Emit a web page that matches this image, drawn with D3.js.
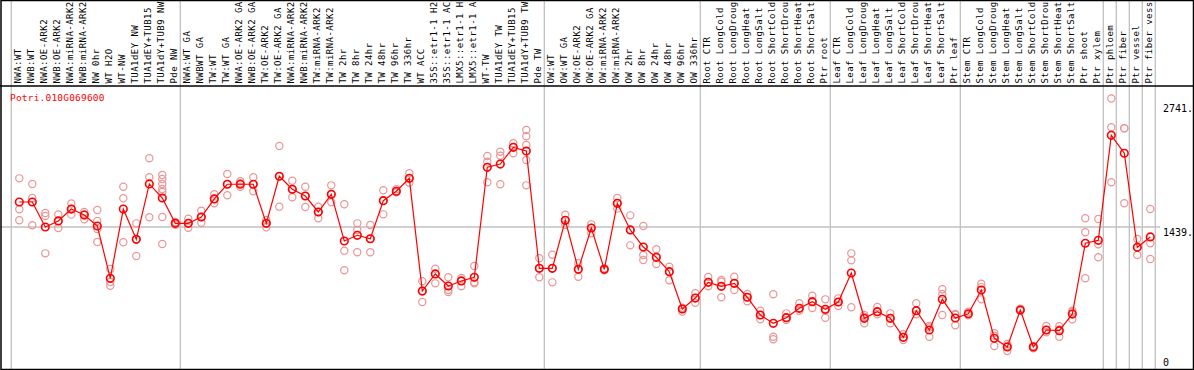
<!DOCTYPE html>
<html><head><meta charset="utf-8">
<script src="https://cdn.jsdelivr.net/npm/d3@7"></script>
<style>
html,body{margin:0;padding:0;background:#fff;}
svg{display:block;}
text{font-family:"DejaVu Sans Mono","Liberation Mono",monospace;}
</style></head>
<body>
<svg id="chart" width="1194" height="370"></svg>
<script>
const geneId = "Potri.010G069600";

const categories = [
"NWA:WT","NWB:WT","NWA:OE-ARK2","NWB:OE-ARK2","NWA:miRNA-ARK2","NWB:miRNA-ARK2","NW 0hr","WT H2O","WT-NW","TUA1dEY NW","TUA1dEY+TUB15","TUA1dY+TUB9 NW","Pde NW",
"NWA:WT GA","NWBWT GA","TW:WT","TW:WT GA","NWA:OE-ARK2 GA","NWB:OE-ARK2 GA","TW:OE-ARK2","TW:OE-ARK2 GA","NWA:miRNA-ARK2","NWB:miRNA-ARK2","TW:miRNA-ARK2","TW:miRNA-ARK2",
"TW 2hr","TW 8hr","TW 24hr","TW 48hr","TW 96hr","TW 336hr","WT ACC","35S::etr1-1 H2","35S::etr1-1 AC","LMX5::etr1-1 H","LMX5::etr1-1 A","WT-TW","TUA1dEY TW","TUA1dEY+TUB15","TUA1dY+TUB9 TW","Pde TW",
"OW:WT","OW:WT GA","OW:OE-ARK2","OW:OE-ARK2 GA","OW:miRNA-ARK2","OW:miRNA-ARK2","OW 2hr","OW 8hr","OW 24hr","OW 48hr","OW 96hr","OW 336hr",
"Root CTR","Root LongCold","Root LongDroug","Root LongHeat","Root LongSalt","Root ShortCold","Root ShortDrou","Root ShortHeat","Root ShortSalt","Ptr root",
"Leaf CTR","Leaf LongCold","Leaf LongDroug","Leaf LongHeat","Leaf LongSalt","Leaf ShortCold","Leaf ShortDrou","Leaf ShortHeat","Leaf ShortSalt","Ptr leaf",
"Stem CTR","Stem LongCold","Stem LongDroug","Stem LongHeat","Stem LongSalt","Stem ShortCold","Stem ShortDrou","Stem ShortHeat","Stem ShortSalt","Ptr shoot","Ptr xylem",
"Ptr phloem","Ptr fiber","Ptr vessel","Ptr fiber vess"
];

// index of the first category of each group
const groupStarts = [0, 13, 41, 53, 63, 73, 84, 85, 86, 87];

const meanValues = [
1692,1692,1439,1500,1621,1560,1449,919,1621,1314,1875,1733,1476,
1476,1540,1723,1872,1872,1872,1476,1953,1821,1753,1591,1770,
1297,1355,1320,1706,1801,1932,790,963,841,892,929,2044,2077,2246,2209,1020,
1020,1507,1010,1429,1010,1679,1409,1236,1132,986,608,719,
878,838,868,727,547,463,520,615,682,605,
679,973,514,581,514,321,591,395,706,517,
560,800,311,223,598,223,395,388,557,1274,1304,
2368,2186,1233,1338
];

const replicateValues = [
[1932,1618,1507],[1875,1733,1456],[1581,1550,1172],[1566,1500,1429],[1677,1621,1564],[1591,1567,1517],[1611,1500,1419,1287],[1013,882,844],[1847,1730,1284],[1476,1314,1145],[2135,1943,1537],[1966,1925,1875,1824,1794,1540,1267],[1490,1476,1462],
[1523,1476,1432],[1604,1540,1482],[1770,1723,1679],[1976,1872,1760],[1902,1882,1847],[1943,1872,1801],[1510,1476,1436],[2260,1953,1645],[1908,1821,1740],[1847,1753,1642],[1645,1591,1527],[1861,1770,1689],
[1669,1199,1000],[1476,1409,1183],[1459,1320,1183],[1811,1706,1567],[1821,1794,1790],[1983,1932,1888],[889,790,679],[1016,963,868],[929,800,780],[922,892,838],[1044,878,868],[2158,2101,1892],[2202,2161,1872],[2287,2246,2186],[2422,2358,2270,2118,1861],[1122,1020,929],
[1158,1020,878],[1564,1507,1462],[1071,1010,935],[1466,1429,1375],[1020,1010,1000],[1733,1679,1625],[1557,1409,1253],[1449,1155,1105],[1213,1132,1064],[1037,986,899],[620,608,581],[767,719,672],
[932,878,838],[902,885,727],[935,868,800],[760,727,686],[591,547,504],[757,327,301],[564,520,497],[666,615,591],[743,682,618],[706,590,520],
[716,679,638],[1172,1101,625],[547,530,463],[628,581,554],[564,514,463],[352,321,294],[666,591,554],[436,420,327],[808,760,547],[557,550,443],
[581,557,544],[864,830,706],[362,338,233],[253,233,182],[610,598,590],[233,223,209],[436,395,372],[433,402,327],[591,577,504],[1527,1385,919],[1520,1264,1132],
[2741,2449,1892],[2440,2439,1679],[1317,1233,1155],[1621,1274,1115]
];

const yTickValues = [2741, 1439, 0];
const yTickLabels = ["2741.", "1439.", "0"];
const gridValues = [1439];

// ---------- drawing ----------
const W = 1194, H = 370;
const svg = d3.select("#chart");
const plotTop = 86, plotBottom = 369;

const idx = categories.map((_, i) => i);
const x = d3.scaleBand().domain(idx).range([11.3, 11.3 + 13 * categories.length]).padding(0);
const cx = i => x(i) + 8;
const y = d3.scaleLinear().domain([0, 2741]).range([plotBottom, 98.5]);

// vertical group separators
const sepX = groupStarts.map(g => x(g)).concat([x(categories.length - 1) + x.bandwidth()]);
svg.append("g").selectAll("line").data(sepX).join("line")
  .attr("x1", d => d).attr("x2", d => d).attr("y1", 0).attr("y2", H)
  .attr("stroke", "#c0c0c0").attr("stroke-width", 1.3);

// horizontal grid
svg.append("g").selectAll("line").data(gridValues).join("line")
  .attr("x1", 0).attr("x2", 1160).attr("y1", d => y(d)).attr("y2", d => y(d))
  .attr("stroke", "#c0c0c0").attr("stroke-width", 1.3);

// borders
svg.append("rect").attr("x", 1).attr("y", 0.5).attr("width", W - 1.5).attr("height", plotBottom)
  .attr("fill", "none").attr("stroke", "#000").attr("stroke-width", 1.5);
svg.append("line").attr("x1", 0).attr("x2", W).attr("y1", plotTop).attr("y2", plotTop)
  .attr("stroke", "#000").attr("stroke-width", 1.5);

// category labels (vertical)
svg.append("g").selectAll("text").data(categories).join("text")
  .attr("transform", (d, i) => `translate(${x(i) + 9.7},83.5) rotate(-90)`)
  .attr("font-size", 9).attr("letter-spacing", 0.45).attr("fill", "#000")
  .text(d => d);

// title
svg.append("text").attr("x", 10).attr("y", 100.5).attr("font-size", 9.5)
  .attr("letter-spacing", 0.2).attr("fill", "#ff0000").text(geneId);

// right axis labels
const tickDy = [13, 9.2, -2.8];
svg.append("g").selectAll("text").data(yTickValues).join("text")
  .attr("x", 1163).attr("y", (d, i) => y(d) + tickDy[i])
  .attr("font-size", 10).attr("fill", "#000").text((d, i) => yTickLabels[i]);

// replicate points
const repPts = [];
replicateValues.forEach((arr, i) => arr.forEach(v => repPts.push({i, v})));
svg.append("g").selectAll("circle").data(repPts).join("circle")
  .attr("cx", d => cx(d.i)).attr("cy", d => y(d.v)).attr("r", 3.6)
  .attr("fill", "none").attr("stroke", "#eb9595").attr("stroke-width", 1.2);

// mean line
const line = d3.line().x((d, i) => cx(i)).y(d => y(d));
svg.append("path").datum(meanValues).attr("d", line)
  .attr("fill", "none").attr("stroke", "#ff0000").attr("stroke-width", 1.2);

// mean points
svg.append("g").selectAll("circle").data(meanValues).join("circle")
  .attr("cx", (d, i) => cx(i)).attr("cy", d => y(d)).attr("r", 3.8)
  .attr("fill", "none").attr("stroke", "#ff0000").attr("stroke-width", 1.6);
</script>
</body></html>
